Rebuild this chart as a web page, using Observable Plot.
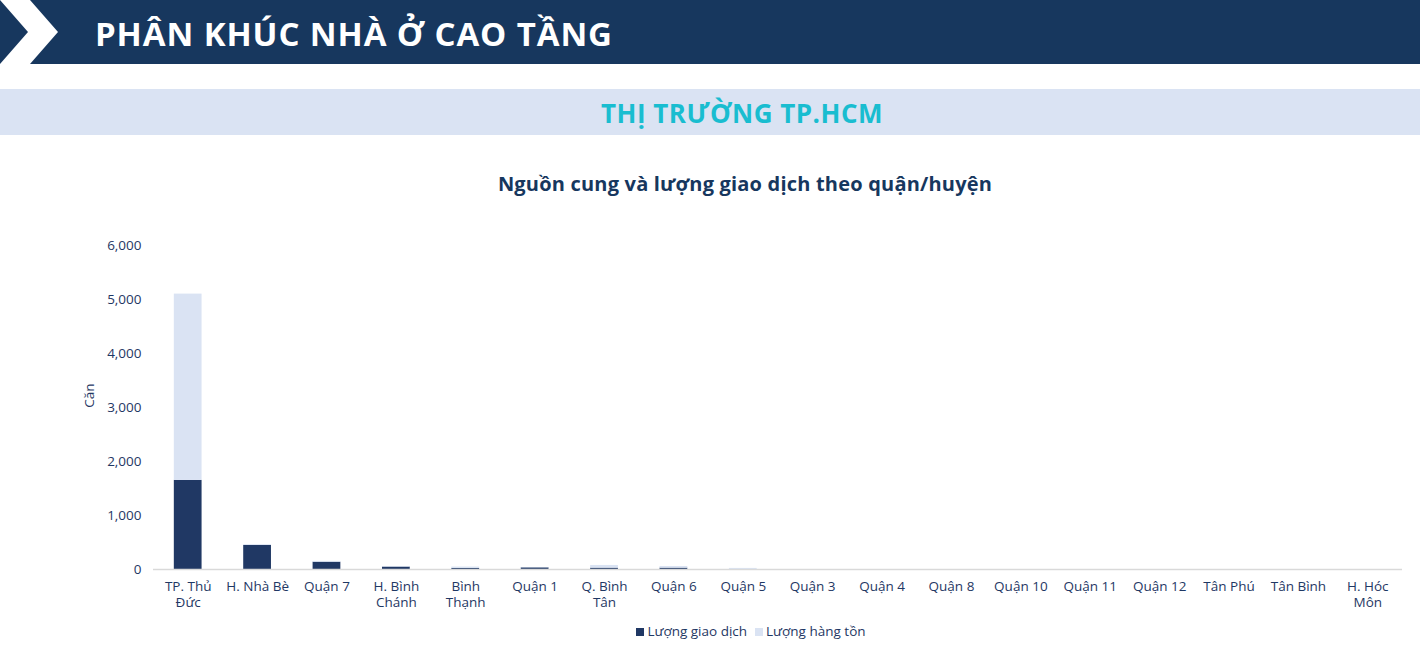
<!DOCTYPE html>
<html>
<head>
<meta charset="utf-8">
<script src="https://cdn.jsdelivr.net/npm/d3@7"></script>
<script src="https://cdn.jsdelivr.net/npm/@observablehq/plot@0.6"></script>
<style>
  html, body { margin: 0; padding: 0; background: #fff; width: 1420px; height: 649px; overflow: hidden; font-family: "Open Sans", sans-serif; }
  #header { position: absolute; left: 0; top: 0; width: 1420px; height: 64px; background: #17375e; }
  #header svg { position: absolute; left: 0; top: 0; }
  #header .t { position: absolute; left: 95px; top: 0; height: 64px; line-height: 68px; color: #fff; font-weight: 700; font-size: 33px; letter-spacing: 0.9px; }
  #band { position: absolute; left: 0; top: 89px; width: 1484px; height: 46px; background: transparent; text-align: center; line-height: 48px; color: #19bdd0; font-weight: 700; font-size: 26px; letter-spacing: 0.5px; }
  #bandbg { position: absolute; left: 0; top: 89px; width: 1420px; height: 46px; background: #dae3f3; }
  #title { position: absolute; left: 0; top: 170px; width: 1490px; text-align: center; color: #17375e; font-weight: 700; font-size: 20px; letter-spacing: 0.2px; }
  #chart { position: absolute; left: 0; top: 210px; }
  #legend { position: absolute; left: 0; top: 622px; width: 1502px; text-align: center; font-size: 13.5px; color: #1f3864; }
  #legend span.sw { display: inline-block; width: 8px; height: 8px; margin-right: 3px; vertical-align: 0px; }
  #legend span.item { margin: 0 4px; }
</style>
</head>
<body>
<div id="header">
  <svg width="80" height="64"><polygon points="0,0 30,0 58,32 30,64 0,64 28,32" fill="#fff"/></svg>
  <div class="t">PHÂN KHÚC NHÀ Ở CAO TẦNG</div>
</div>
<div id="bandbg"></div>
<div id="band">THỊ TRƯỜNG TP.HCM</div>
<div id="title">Nguồn cung và lượng giao dịch theo quận/huyện</div>
<div id="chart"></div>
<div id="legend"></div>
<script>
const districts = ["TP. Thủ\nĐức", "H. Nhà Bè", "Quận 7", "H. Bình\nChánh", "Bình\nThạnh", "Quận 1", "Q. Bình\nTân", "Quận 6", "Quận 5", "Quận 3", "Quận 4", "Quận 8", "Quận 10", "Quận 11", "Quận 12", "Tân Phú", "Tân Bình", "H. Hóc\nMôn"];
const giaoDich = [1650, 445, 135, 45, 20, 30, 25, 25, 0, 0, 0, 0, 0, 0, 0, 0, 0, 0];
const hangTon  = [3450, 15, 15, 10, 25, 5, 50, 30, 20, 0, 0, 0, 0, 0, 0, 0, 0, 0];
const seriesNames = ["Lượng giao dịch", "Lượng hàng tồn"];
const seriesColors = ["#203864", "#dae3f3"];
const yTicks = [0, 1000, 2000, 3000, 4000, 5000, 6000];

const rows = [];
districts.forEach((d, i) => {
  rows.push({district: d, series: seriesNames[0], value: giaoDich[i]});
  rows.push({district: d, series: seriesNames[1], value: hangTon[i]});
});

const chart = Plot.plot({
  width: 1420,
  height: 405,
  marginTop: 35,
  marginBottom: 46,
  marginLeft: 153,
  marginRight: 18,
  style: {fontFamily: "'Open Sans', sans-serif", fontSize: "13.5px", color: "#1f3864", background: "transparent"},
  x: {domain: districts, paddingInner: 0.6, paddingOuter: 0.3, round: false, label: null},
  y: {domain: [0, 6000], label: null},
  color: {domain: seriesNames, range: seriesColors},
  marks: [
    Plot.barY(rows, {x: "district", y: "value", fill: "series", order: seriesNames}),
    Plot.ruleY([0], {stroke: "#d9d9d9", strokeWidth: 1.3}),
    Plot.axisY({ticks: yTicks, tickSize: 0, tickPadding: 12, tickFormat: d3.format(","), label: null, fill: "#1f3864", fontSize: 13.5}),
    Plot.axisX({tickSize: 0, tickPadding: 10, label: null, lineHeight: 1.2, fill: "#1f3864", fontSize: 13.5}),
    Plot.text(["Căn"], {frameAnchor: "left", textAnchor: "middle", dx: -64, dy: -12, rotate: -90, fill: "#1f3864", fontSize: 13.5})
  ]
});
document.getElementById("chart").appendChild(chart);

const lg = document.getElementById("legend");
seriesNames.forEach((n, i) => {
  const it = document.createElement("span");
  it.className = "item";
  it.innerHTML = `<span class="sw" style="background:${seriesColors[i]}"></span>${n}`;
  lg.appendChild(it);
});
</script>
</body>
</html>
